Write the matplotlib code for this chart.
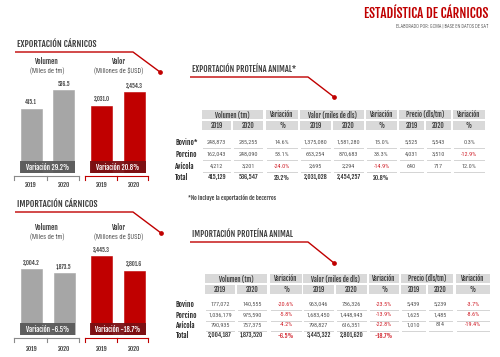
import matplotlib
matplotlib.use("Agg")
import matplotlib.pyplot as plt
from matplotlib.patches import Rectangle

# ---------------- data ----------------
years = ["2019", "2020"]

exp_vol = [415.1, 536.5]
exp_val = [2031.0, 2454.3]
exp_vol_var = 29.2
exp_val_var = 20.8

imp_vol = [2004.2, 1873.5]
imp_val = [3445.3, 2801.6]
imp_vol_var = -6.5
imp_val_var = -18.7

exp_rows = ["Bovino*", "Porcino", "Avícola", "Total"]
exp_vol19 = [248873, 162043, 4212, 415129]
exp_vol20 = [285255, 248090, 3201, 536547]
exp_vol_pct = [14.6, 53.1, -24.0, 29.2]
exp_val19 = [1375080, 653254, 2695, 2031028]
exp_val20 = [1581280, 870683, 2294, 2454257]
exp_val_pct = [15.0, 33.3, -14.9, 20.8]
exp_pr19 = [5525, 4031, 640]
exp_pr20 = [5543, 3510, 717]
exp_pr_pct = [0.3, -12.9, 12.0]

imp_rows = ["Bovino", "Porcino", "Avícola", "Total"]
imp_vol19 = [177072, 1036179, 790935, 2004187]
imp_vol20 = [140555, 975590, 757375, 1873520]
imp_vol_pct = [-20.6, -5.8, -4.2, -6.5]
imp_val19 = [963046, 1683450, 798827, 3445322]
imp_val20 = [736326, 1448943, 616351, 2801620]
imp_val_pct = [-23.5, -13.9, -22.8, -18.7]
imp_pr19 = [5439, 1625, 1010]
imp_pr20 = [5239, 1485, 814]
imp_pr_pct = [-3.7, -8.6, -19.4]

# ---------------- style ----------------
BOLD = ["Fjalla One", "DejaVu Sans"]
NUM = ["Roboto Condensed", "DejaVu Sans"]
RED = "#c00000"
DARKRED = "#7a1014"
GRAY_BAR = "#a6a6a6"
GRAY_BOX = "#595959"
TXT = "#3a3a3a"
NUMC = "#555555"
NEG = "#d0202a"
HDR_BG = "#d9d9d9"

W, H = 500, 357
fig = plt.figure(figsize=(W / 100, H / 100), dpi=100)
fig.patch.set_facecolor("white")


def px_ax(x0, y0, x1, y1):
    return fig.add_axes([x0 / W, 1 - y1 / H, (x1 - x0) / W, (y1 - y0) / H])


def bar_chart(x0, x1, y_top, y_base, c0, values, color, hpx):
    step = 32.5
    ax = px_ax(x0, y_top, x1, y_base)
    ax.set_xlim((x0 - c0) / step, (x1 - c0) / step)
    ax.set_ylim(0, max(values) * (y_base - y_top) / hpx)
    ax.bar(range(len(values)), values, width=21 / step, color=color,
           edgecolor=color, linewidth=0.4)
    for i, v in enumerate(values):
        ax.annotate(f"{v:,.1f}", (i, v), xytext=(0, 2.5), textcoords="offset points",
                    ha="center", va="bottom", fontsize=4.1, family=BOLD,
                    color=TXT)
    ax.axis("off")
    return ax


ax_ev = bar_chart(14, 79, 55, 173, 31, exp_vol, GRAY_BAR, 83)
ax_ea = bar_chart(85, 148, 55, 173, 101.5, exp_val, RED, 81)
ax_iv = bar_chart(14, 79, 220, 335, 31.5, imp_vol, GRAY_BAR, 66)
ax_ia = bar_chart(85, 148, 220, 335, 101.5, imp_val, RED, 79)

for ax, base, yb in [(ax_ev, 173, 185), (ax_ea, 173, 185), (ax_iv, 335, 349), (ax_ia, 335, 349)]:
    for i, y in enumerate(years):
        ax.annotate(y, (i, 0), xytext=(0, -(yb - base) * 0.72),
                    textcoords="offset points", ha="center", va="center",
                    fontsize=4.5, family=BOLD, color=TXT, annotation_clip=False)

# overlay
ov = fig.add_axes([0, 0, 1, 1])
ov.set_xlim(0, W)
ov.set_ylim(H, 0)
ov.axis("off")
ov.patch.set_alpha(0)

ov.text(488, 13, "ESTADÍSTICA DE CÁRNICOS", ha="right", va="center", fontsize=9.4,
        family=BOLD, color=RED)
ov.text(488, 26, "ELABORADO POR: GCMA | BASE EN DATOS DE SAT", ha="right", va="center",
        fontsize=3.3, family=NUM, color="#666666")


def section_title(x, y, text, x_end, x_tip, y_tip, size=5.6):
    ov.text(x, y, text, ha="left", va="center", fontsize=size, family=BOLD, color=TXT)
    ov.plot([x - 2, x_end, x_tip], [y + 8, y + 8, y_tip], color=RED, lw=1.0,
            solid_capstyle="butt")
    ov.plot([x_tip], [y_tip], "o", ms=2.4, color=RED)


section_title(17, 44, "EXPORTACIÓN CÁRNICOS", 133, 160, 72, size=6.4)
section_title(17, 204, "IMPORTACIÓN CÁRNICOS", 133, 161, 233, size=6.4)
section_title(192, 69, "EXPORTACIÓN PROTEÍNA ANIMAL*", 308, 334, 97, size=6.0)
section_title(192, 234, "IMPORTACIÓN PROTEÍNA ANIMAL", 308, 334, 263, size=6.0)


def chart_frame(y_head, y_box, y_axis, var_gray, var_red):
    for cx, t1, t2 in [(47, "Volumen", "(Miles de tm)"), (119, "Valor", "(Millones de $USD)")]:
        ov.text(cx, y_head, t1, ha="center", va="center", fontsize=5.0, family=BOLD,
                color=TXT)
        ov.text(cx, y_head + 10, t2, ha="center", va="center", fontsize=4.7,
                family=NUM, color="#555555")
    for (bx0, bx1, col, v) in [(20, 75, GRAY_BOX, var_gray), (90, 146, DARKRED, var_red)]:
        ov.add_patch(Rectangle((bx0, y_box), bx1 - bx0, 12, facecolor=col,
                               edgecolor="none", alpha=0.95))
        ov.text((bx0 + bx1) / 2, y_box + 6.3, f"Variación {v:.1f}%", ha="center",
                va="center", fontsize=4.9, family=BOLD, color="white")
    for (ax0, ax1, col) in [(14, 79, "#8a8a8a"), (85, 148, RED)]:
        ov.plot([ax0, ax1], [y_axis, y_axis], color=col, lw=0.8)
        for xx in (ax0, (ax0 + ax1) / 2, ax1):
            ov.plot([xx, xx], [y_axis, y_axis + 4], color=col, lw=0.8)


chart_frame(61, 161, 176, exp_vol_var, exp_val_var)
chart_frame(227, 323, 338, imp_vol_var, imp_val_var)


def pct(v):
    return f"{v:.1f}%"


def draw_table(y_h1, row_ys, cols, rows, data, label_x):
    groups = [("Volumen (tm)", 0, 1), ("Variación", 2, 2), ("Valor (miles de dls)", 3, 4),
              ("Variación", 5, 5), ("Precio (dls/tm)", 6, 7), ("Variación", 8, 8)]
    sub = ["2019", "2020", "%", "2019", "2020", "%", "2019", "2020", "%"]
    hh = 9
    for name, a, b in groups:
        x0, x1 = cols[a][0], cols[b][1]
        ov.add_patch(Rectangle((x0, y_h1), x1 - x0, hh, facecolor=HDR_BG, edgecolor="none"))
        ov.text((x0 + x1) / 2, y_h1 + hh / 2 + 0.3, name, ha="center", va="center",
                fontsize=4.7, family=BOLD, color=TXT)
    for (x0, x1), s in zip(cols, sub):
        ov.add_patch(Rectangle((x0, y_h1 + hh + 2), x1 - x0, hh, facecolor=HDR_BG,
                               edgecolor="none"))
        ov.text((x0 + x1) / 2, y_h1 + hh + 2 + hh / 2 + 0.3, s, ha="center", va="center",
                fontsize=4.7, family=BOLD, color=TXT)
    nrows = len(rows)
    for r, (lab, y) in enumerate(zip(rows, row_ys)):
        total = r == nrows - 1
        ov.text(label_x, y, lab, ha="left", va="center", fontsize=5.1, family=BOLD,
                color="#222222")
        for c, (x0, x1) in enumerate(cols):
            col_vals = data[c]
            if r >= len(col_vals):
                continue
            v = col_vals[r]
            is_pct = c in (2, 5, 8)
            s = pct(v) if is_pct else f"{v:,}"
            color = NEG if (is_pct and v < 0) else NUMC
            if total:
                ov.text((x0 + x1) / 2, y, s, ha="center", va="center", fontsize=4.4,
                        family=BOLD, color=NEG if (is_pct and v < 0) else "#2a2a2a")
            else:
                ov.text((x0 + x1) / 2, y, s, ha="center", va="center", fontsize=4.4,
                        family=NUM, color=color)
                ov.plot([x0 + 1, x1 - 1], [y + 5.8, y + 5.8], color="#d4d4d4", lw=0.7)


exp_cols = [(202, 231), (233, 263), (266, 298), (300, 331), (333, 364), (366, 397),
            (399, 424), (426, 451), (453, 485)]
imp_cols = [(205, 235), (237, 267), (270, 302), (303, 334), (336, 367), (369, 399),
            (401, 426), (428, 453), (456, 490)]

draw_table(110, [142.5, 154.5, 166.5, 177.5], exp_cols, exp_rows,
           [exp_vol19, exp_vol20, exp_vol_pct, exp_val19, exp_val20, exp_val_pct,
            exp_pr19, exp_pr20, exp_pr_pct], 175)
draw_table(274, [304.5, 315, 325, 335.5], imp_cols, imp_rows,
           [imp_vol19, imp_vol20, imp_vol_pct, imp_val19, imp_val20, imp_val_pct,
            imp_pr19, imp_pr20, imp_pr_pct], 176)

ov.text(188, 198, "*No incluye la exportación de becerros", ha="left", va="center",
        fontsize=4.2, family=BOLD, color=TXT)

fig.savefig("out.png", dpi=100, facecolor="white")
